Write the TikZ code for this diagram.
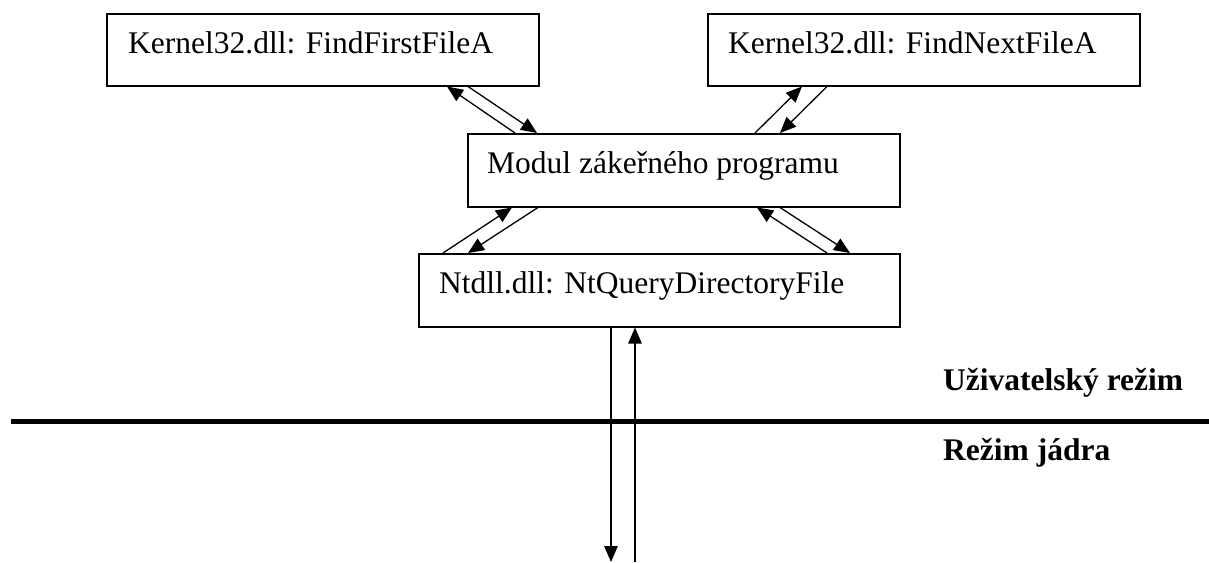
\documentclass[tikz,border=0pt]{standalone}
\usepackage{fontspec}
\setmainfont{Liberation Serif}
\usetikzlibrary{arrows.meta}
\begin{document}
\begin{tikzpicture}[x=1pt,y=-1pt,
  boxst/.style={draw,line width=1.5pt,rectangle,anchor=north west,inner sep=0pt,minimum height=72pt},
  txt/.style={anchor=base west,inner sep=0pt,font=\fontsize{31.5}{36}\selectfont},
  lbl/.style={anchor=base west,inner sep=0pt,font=\fontsize{31.5}{36}\selectfont\bfseries},
  arr/.style={line width=1.3pt,-{Triangle[length=16pt,width=13.5pt]}}]
\useasboundingbox (0,0) rectangle (1209,562);
% boxes
\node[boxst,minimum width=432pt] (tl) at (106,13) {};
\node[boxst,minimum width=432pt] (tr) at (707,13) {};
\node[boxst,minimum width=432pt,minimum height=73pt] (mod) at (467,133) {};
\node[boxst,minimum width=481pt,minimum height=73pt] (nt) at (418,253) {};
% texts
\node[txt] (tltext) at (128,53) {Kernel32.dll: FindFirstFileA};
\node[txt] (trtext) at (728,53) {Kernel32.dll: FindNextFileA};
\node[txt] (modtext) at (487,173) {Modul zákeřného programu};
\node[txt] (nttext) at (439,293) {Ntdll.dll: NtQueryDirectoryFile};
% mode labels
\node[lbl] (user) at (943,390) {Uživatelský režim};
\node[lbl] (kernel) at (943,460) {Režim jádra};
% separator
\coordinate (sepL) at (11,421.5);
\coordinate (sepR) at (1209,421.5);
\draw[line width=4.5pt] (sepL) -- (sepR);
% arrows top-left
\draw[arr] ([xshift=48pt]mod.north west) -- ([xshift=341pt]tl.south west);
\draw[arr] ([xshift=362pt]tl.south west) -- ([xshift=70pt]mod.north west);
% arrows top-right
\draw[arr] ([xshift=288pt]mod.north west) -- ([xshift=95pt]tr.south west);
\draw[arr] ([xshift=120pt]tr.south west) -- ([xshift=313pt]mod.north west);
% arrows lower-left
\draw[arr] ([xshift=25pt]nt.north west) -- ([xshift=45pt]mod.south west);
\draw[arr] ([xshift=71pt]mod.south west) -- ([xshift=50pt]nt.north west);
% arrows lower-right
\draw[arr] ([xshift=409pt]nt.north west) -- ([xshift=290pt]mod.south west);
\draw[arr] ([xshift=313pt]mod.south west) -- ([xshift=432pt]nt.north west);
% vertical arrows
\coordinate (downEnd) at (611,562);
\coordinate (upStart) at (635,562);
\draw[arr] ([xshift=193pt]nt.south west) -- (downEnd);
\draw[arr] (upStart) -- ([xshift=217pt]nt.south west);
\end{tikzpicture}
\end{document}
